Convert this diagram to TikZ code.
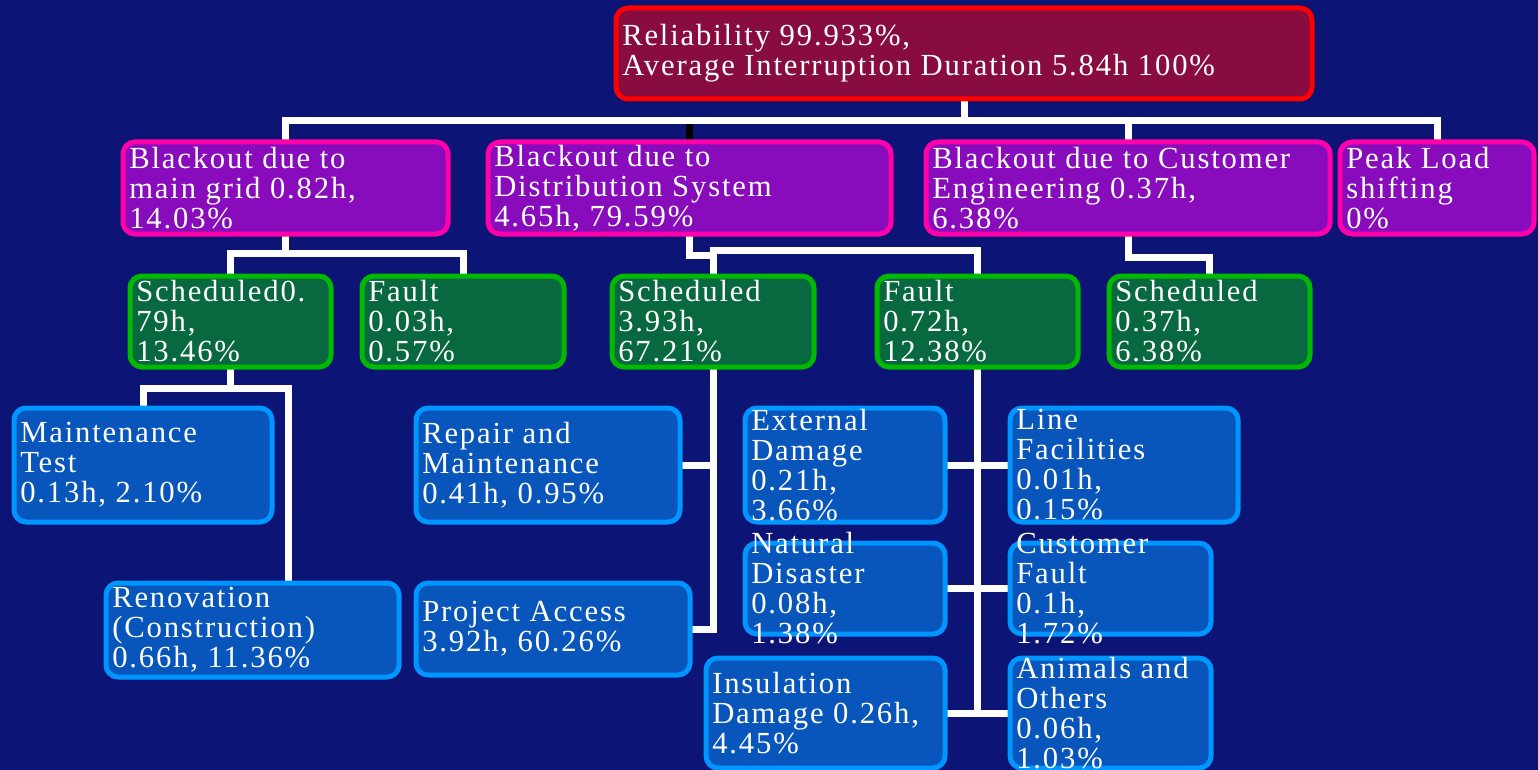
\documentclass[tikz,border=0pt]{standalone}
\usepackage{fontspec}
\setmainfont{Liberation Serif}[LetterSpace=6]
\definecolor{bgc}{RGB}{12,20,118}
\definecolor{rootline}{RGB}{255,0,0}
\definecolor{rootfill}{RGB}{136,12,64}
\definecolor{lonel}{RGB}{255,0,170}
\definecolor{lonef}{RGB}{136,12,188}
\definecolor{ltwol}{RGB}{0,185,0}
\definecolor{ltwof}{RGB}{8,104,64}
\definecolor{lthrl}{RGB}{0,150,255}
\definecolor{lthrf}{RGB}{8,86,188}
\pgfdeclarelayer{back}
\pgfdeclarelayer{wires}
\pgfsetlayers{back,wires,main}
\tikzset{
  boxbase/.style={draw, line width=3.75pt, rounded corners=9pt, inner sep=0pt, outer sep=0pt},
  rootbox/.style={boxbase, draw=rootline, fill=rootfill},
  lvone/.style={boxbase, draw=lonel, fill=lonef},
  lvtwo/.style={boxbase, draw=ltwol, fill=ltwof},
  lvthree/.style={boxbase, draw=lthrl, fill=lthrf},
  txt/.style={anchor=west, inner sep=0pt, align=left, text=white, font=\fontsize{23}{22.5}\selectfont},
  wire/.style={draw=white, line width=5.25pt, line cap=rect},
  blackwire/.style={draw=black, line width=5.25pt},
}
\newcommand\bx[7]{%
  \node[#2, minimum width={(#5-#3)*0.75pt}, minimum height={(#6-#4)*0.75pt}] (#1) at ({(#3+#5)/2},{(#4+#6)/2}) {};
  \node[txt] (#1t) at ([xshift=4.5pt]#1.west) {#7};%
}
\begin{document}
\begin{tikzpicture}[x=0.75pt,y=-0.75pt]
\useasboundingbox (0,0) rectangle (1538,770);
\begin{pgfonlayer}{back}
\fill[bgc] (0,0) rectangle (1538,770);
\end{pgfonlayer}

\bx{root}{rootbox}{616}{8}{1312}{99}{Reliability 99.933\%,\\Average Interruption Duration 5.84h 100\%}
\bx{A}{lvone}{123}{142}{448}{234}{Blackout due to\\main grid 0.82h,\\14.03\%}
\bx{B}{lvone}{488}{142}{891}{234}{Blackout due to\\Distribution System\\4.65h, 79.59\%}
\bx{C}{lvone}{926}{142}{1330}{234}{Blackout due to Customer\\Engineering 0.37h,\\6.38\%}
\bx{D}{lvone}{1340}{142}{1534}{234}{Peak Load\\shifting\\0\%}

\bx{A1}{lvtwo}{130}{276}{331}{367}{Scheduled0.\\79h,\\13.46\%}
\bx{A2}{lvtwo}{362}{276}{564}{367}{Fault\\0.03h,\\0.57\%}
\bx{B1}{lvtwo}{612}{276}{814}{367}{Scheduled\\3.93h,\\67.21\%}
\bx{B2}{lvtwo}{877}{276}{1078}{367}{Fault\\0.72h,\\12.38\%}
\bx{C1}{lvtwo}{1109}{276}{1310}{367}{Scheduled\\0.37h,\\6.38\%}

\bx{MT}{lvthree}{14}{408}{272}{522}{Maintenance\\Test\\0.13h, 2.10\%}
\bx{Ren}{lvthree}{106}{583}{399}{677}{Renovation\\(Construction)\\0.66h, 11.36\%}
\bx{RM}{lvthree}{416}{408}{680}{522}{Repair and\\Maintenance\\0.41h, 0.95\%}
\bx{PA}{lvthree}{416}{583}{690}{675}{Project Access\\3.92h, 60.26\%}
\bx{ED}{lvthree}{745}{408}{945}{522}{External\\Damage\\0.21h,\\3.66\%}
\bx{ND}{lvthree}{745}{543}{945}{634}{Natural\\Disaster\\0.08h,\\1.38\%}
\bx{ID}{lvthree}{706}{658}{945}{768}{Insulation\\Damage 0.26h,\\4.45\%}
\bx{LF}{lvthree}{1010}{408}{1238}{522}{Line\\Facilities\\0.01h,\\0.15\%}
\bx{CF}{lvthree}{1010}{543}{1211}{634}{Customer\\Fault\\0.1h,\\1.72\%}
\bx{AO}{lvthree}{1010}{658}{1211}{768}{Animals and\\Others\\0.06h,\\1.03\%}

\begin{pgfonlayer}{wires}
\coordinate (r1) at (964,121);
\draw[blackwire] (B.north) -- (B.north |- r1);
\draw[wire] (root.south) -- (r1);
\draw[wire] (A.north) |- (D.north |- r1) -- (D.north);
\draw[wire] (C.north) -- (C.north |- r1);
% main grid
\coordinate (a1) at (285.5,253);
\draw[wire] (A.south) -- (a1);
\draw[wire] (A1.north) |- (a1) -| (A2.north);
% distribution
\coordinate (b1) at (713,255);
\coordinate (b2) at (713,250);
\draw[wire] (B.south) |- (b1) -- (B1.north);
\draw[wire] (b2) -| (B2.north);
% customer engineering
\coordinate (c1) at (1128,257);
\draw[wire] (C.south) -- (c1) -| (C1.north);
% scheduled (main grid)
\coordinate (m1) at (230.5,388);
\coordinate (m2) at (288,388);
\draw[wire] (A1.south) -- (m1);
\draw[wire] (MT.north) |- (m2) -- (m2 |- Ren.north);
% scheduled (distribution)
\draw[wire] (B1.south) -- (B1.south |- PA.east);
\draw[wire] (RM.east) -- (RM.east -| B1.south);
\draw[wire] (PA.east) -- (PA.east -| B1.south);
% fault (distribution)
\draw[wire] (B2.south) -- (B2.south |- AO.west);
\draw[wire] (ED.east) -- (LF.west);
\draw[wire] (ND.east) -- (CF.west);
\draw[wire] (ID.east) -- (AO.west);
\end{pgfonlayer}
\end{tikzpicture}
\end{document}
